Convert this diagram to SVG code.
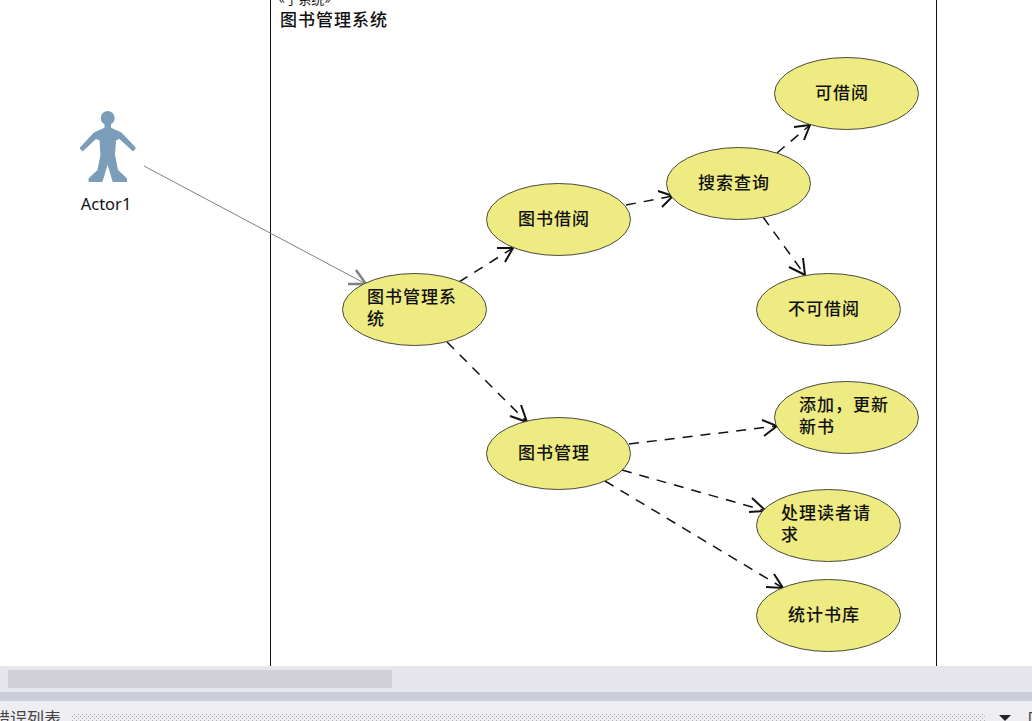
<svg xmlns="http://www.w3.org/2000/svg" width="1032" height="721" viewBox="0 0 1032 721">
<style>
.uc{fill:#eeeb82;stroke:#4a4a3c;stroke-width:1}
.t{font-family:"Noto Sans CJK SC","Liberation Sans",sans-serif;font-size:17px;font-weight:500;letter-spacing:1px;fill:#111}
.dep{fill:none;stroke:#111;stroke-width:1.5;stroke-dasharray:10 8}
.hd{fill:none;stroke:#111;stroke-width:2}
.gen{fill:none;stroke:#808080;stroke-width:1}
.genh{fill:none;stroke:#808080;stroke-width:2.5}
</style>
<defs>
<pattern id="dots" width="4" height="4" patternUnits="userSpaceOnUse"><rect width="4" height="4" fill="#eeeef2"/><rect x="0" y="0" width="1" height="1" fill="#b4b4b8"/><rect x="2" y="2" width="1" height="1" fill="#b4b4b8"/></pattern>
</defs>
<rect width="1032" height="721" fill="#fff"/>
<g id="boundary">
<path d="M270.5 0V666M936.5 0V666" fill="none" stroke="#111" stroke-width="1"/>
<text x="279" y="4" style="font-family:'Noto Sans CJK SC',sans-serif;font-size:13px;fill:#111">«子系统»</text>
<text x="280" y="26" class="t">图书管理系统</text>
</g>
<g id="connectors">
<path class="gen" d="M144 166L366 284"/>
<path class="genh" d="M356 270L366 284L348 284"/>
<path class="dep" d="M459 282L513 248"/>
<path class="hd" d="M497 248L513 248L505 262"/>
<path class="dep" d="M626 205L673 196"/>
<path class="hd" d="M658 191L673 196L662 207"/>
<path class="dep" d="M777 153L810 125"/>
<path class="hd" d="M794 127L810 125L804 140"/>
<path class="dep" d="M763 217L805 275"/>
<path class="hd" d="M789 267L805 275L803 258"/>
<path class="dep" d="M447 342L527 422"/>
<path class="hd" d="M510 416L527 422L521 405"/>
<path class="dep" d="M629 444L777 426"/>
<path class="hd" d="M762 420L777 426L764 436"/>
<path class="dep" d="M622 470L766 511"/>
<path class="hd" d="M752 498L766 511L749 512"/>
<path class="dep" d="M605 481L783 588"/>
<path class="hd" d="M766 587L783 588L774 574"/>
</g>
<g id="actor">
<circle cx="107.7" cy="118" r="7" fill="#7b9dba"/>
<path d="M105 123L105 128L94 133L80 148L82.5 151L96 138.5L100 140L101 155L98 170L89 178.5L89 181.5L102 181.5L107.7 163L113 181.5L126.5 181.5L126.5 178.5L117.5 170L114.5 155L115.5 140L119.5 138.5L133 151L135.5 148L121.5 133L110.5 128L110.5 123Z" fill="#7b9dba" stroke="#7b9dba" stroke-width="1" stroke-linejoin="round"/>
<text x="106" y="210" text-anchor="middle" style="font-family:'Noto Sans','Liberation Sans',sans-serif;font-size:16.5px;fill:#111">Actor1</text>
</g>
<g id="uc1"><ellipse class="uc" cx="414.5" cy="309.5" rx="72" ry="36"/><text class="t" x="367" y="303">图书管理系</text><text class="t" x="367" y="325">统</text></g>
<g id="uc2"><ellipse class="uc" cx="558.5" cy="219.5" rx="72" ry="36"/><text class="t" x="518" y="225">图书借阅</text></g>
<g id="uc3"><ellipse class="uc" cx="738.5" cy="183.5" rx="72" ry="36"/><text class="t" x="698" y="189">搜索查询</text></g>
<g id="uc4"><ellipse class="uc" cx="846.5" cy="93.5" rx="72" ry="36"/><text class="t" x="815" y="99">可借阅</text></g>
<g id="uc5"><ellipse class="uc" cx="828.5" cy="309.5" rx="72" ry="36"/><text class="t" x="788" y="315">不可借阅</text></g>
<g id="uc6"><ellipse class="uc" cx="558.5" cy="453.5" rx="72" ry="36"/><text class="t" x="518" y="459">图书管理</text></g>
<g id="uc7"><ellipse class="uc" cx="846.5" cy="417.5" rx="72" ry="36"/><text class="t" x="799" y="411">添加，更新</text><text class="t" x="799" y="433">新书</text></g>
<g id="uc8"><ellipse class="uc" cx="828.5" cy="525.5" rx="72" ry="36"/><text class="t" x="781" y="519">处理读者请</text><text class="t" x="781" y="541">求</text></g>
<g id="uc9"><ellipse class="uc" cx="828.5" cy="615.5" rx="72" ry="36"/><text class="t" x="788" y="621">统计书库</text></g>
<g id="chrome">
<rect x="0" y="666" width="1032" height="26" fill="#e6e6ec"/>
<rect x="8" y="670" width="384" height="18" fill="#d0d0d6"/>
<rect x="0" y="692" width="1032" height="9" fill="#cbcddb"/>
<rect x="0" y="701" width="1032" height="20" fill="#eeeef2"/>
<rect x="72" y="713" width="914" height="8" fill="url(#dots)"/>
<path d="M999 715H1011L1005 721Z" fill="#222"/>
<text x="-7" y="725" style="font-family:'Noto Sans CJK SC',sans-serif;font-size:17px;fill:#444">错误列表</text>
<text x="1027" y="725" style="font-family:'Noto Sans CJK SC',sans-serif;font-size:17px;fill:#444">口</text>
</g>
</svg>
